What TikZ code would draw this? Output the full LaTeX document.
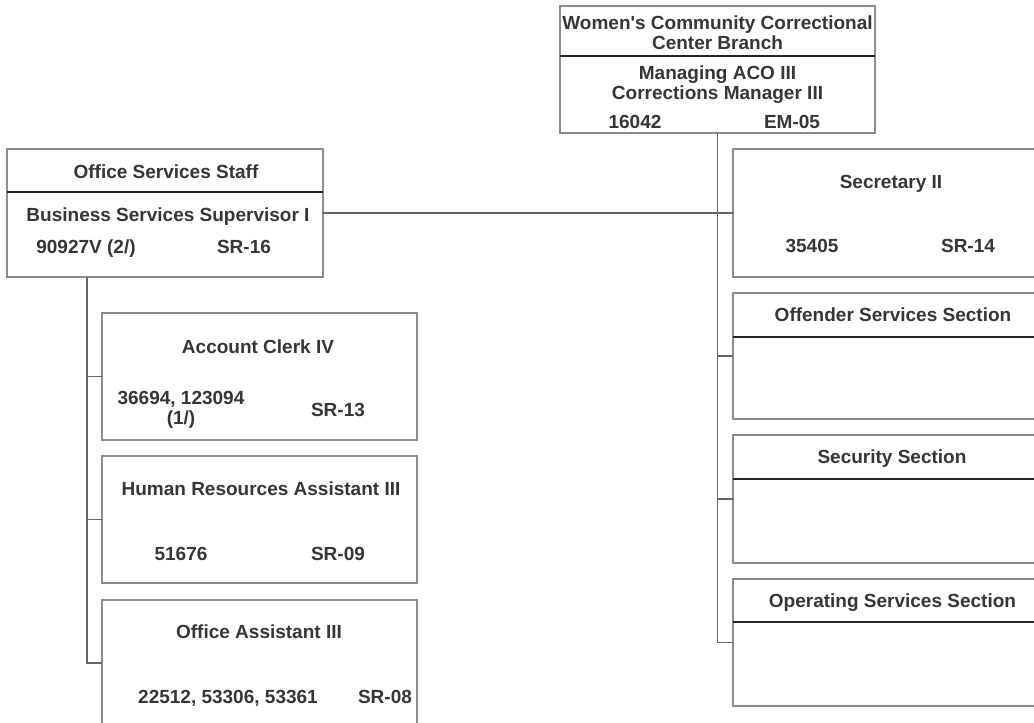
\documentclass[tikz,border=0pt]{standalone}
\usepackage{fontspec}
\setmainfont{Liberation Sans}[Ligatures=TeXOff]
\definecolor{txt}{HTML}{363636}
\definecolor{boxgray}{HTML}{8C8C8C}
\definecolor{conngray}{HTML}{666666}
\begin{document}
\begin{tikzpicture}[x=1pt,y=-1pt,
  box/.style={draw=boxgray, line width=1.4pt, rectangle, inner sep=0pt, outer sep=0pt, anchor=north west, minimum width=315pt},
  ml/.style={text=txt, font=\bfseries\fontsize{19}{20}\selectfont, inner sep=0pt, align=center},
  lbl/.style={ml, text height=13.6pt, text depth=0pt},
  conn/.style={draw=conngray, line width=1.3pt},
  divider/.style={draw=black!85, line width=1.1pt}]
\useasboundingbox (0,0) rectangle (1034,723);
\clip (0,0) rectangle (1034,723);

% boxes
\node[box, minimum height=127pt] (top) at (560,6) {};
\node[box, minimum width=316pt, minimum height=128pt] (oss) at (7,149) {};
\node[box, minimum height=127pt] (acc) at (102,313) {};
\node[box, minimum height=127pt] (hr) at (102,456) {};
\node[box, minimum height=126pt] (oa) at (102,600) {};
\node[box, minimum width=317pt, minimum height=128pt] (sec) at (733,149) {};
\node[box, minimum width=317pt, minimum height=126pt] (off) at (733,293) {};
\node[box, minimum width=317pt, minimum height=128pt] (secu) at (733,435) {};
\node[box, minimum width=317pt, minimum height=127pt] (ops) at (733,579) {};

% dividers
\draw[divider] (560,56) -- (875,56);
\draw[divider] (7,192) -- (323,192);
\draw[divider] (733,337) -- (1050,337);
\draw[divider] (733,479) -- (1050,479);
\draw[divider] (733,622) -- (1050,622);

% connectors right
\draw[conn] (top.south) -- (top.south |- ops.west) -- (ops.west);
\draw[conn] (top.south |- sec.west) -- (sec.west);
\draw[conn] (top.south |- off.west) -- (off.west);
\draw[conn] (top.south |- secu.west) -- (secu.west);
\draw[conn] (oss.east) -- (top.south |- oss.east);

% connectors left
\coordinate (ls) at (87,277);
\draw[conn] (ls) |- (oa.west);
\draw[conn] (ls |- acc.west) -- (acc.west);
\draw[conn] (ls |- hr.west) -- (hr.west);

% texts
\node[ml] (t1) at (717.5,33) {Women's Community Correctional\\Center Branch};
\node[ml] (t2) at (717.5,85) {Managing ACO III\\Corrections Manager III};
\node[lbl] (t3) at (635,122) {16042};
\node[lbl] (t4) at (792,122) {EM-05};

\node[lbl] (o1) at (166,172) {Office Services Staff};
\node[lbl] (o2) at (168,215) {Business Services Supervisor I};
\node[lbl] (o3) at (86,247) {90927V (2/)};
\node[lbl] (o4) at (244,247) {SR-16};

\node[lbl] (a1) at (258,347) {Account Clerk IV};
\node[ml] (a2) at (181,410) {36694, 123094\\(1/)};
\node[lbl] (a3) at (338,410) {SR-13};

\node[lbl] (h1) at (261,489) {Human Resources Assistant III};
\node[lbl] (h2) at (181,554) {51676};
\node[lbl] (h3) at (338,554) {SR-09};

\node[lbl] (p1) at (259,632) {Office Assistant III};
\node[lbl] (p2) at (228,697) {22512, 53306, 53361};
\node[lbl] (p3) at (385,697) {SR-08};

\node[lbl] (s1) at (891,182) {Secretary II};
\node[lbl] (s2) at (812,246) {35405};
\node[lbl] (s3) at (968,246) {SR-14};

\node[lbl] (f1) at (893,315) {Offender Services Section};
\node[lbl] (y1) at (892,457) {Security Section};
\node[lbl] (g1) at (892.5,601) {Operating Services Section};
\end{tikzpicture}
\end{document}
